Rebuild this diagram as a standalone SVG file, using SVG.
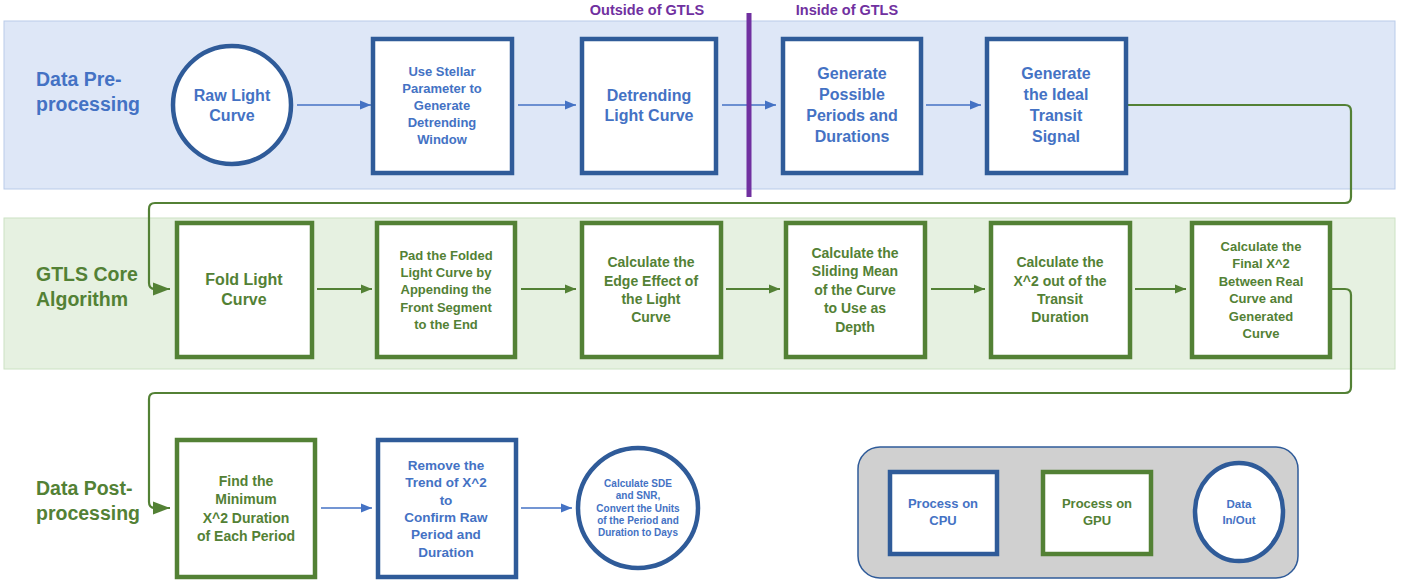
<svg xmlns="http://www.w3.org/2000/svg" width="1413" height="585" viewBox="0 0 1413 585">
<style>
text{font-family:"Liberation Sans",Arial,sans-serif;font-weight:bold;text-anchor:middle}
.bt{fill:#4472c4}
.gt{fill:#538135}
.pt{fill:#7030a0}
.bbox{fill:#fff;stroke:#2f5b99;stroke-width:4.5}
.gbox{fill:#fff;stroke:#538135;stroke-width:4.5}
.barr{fill:none;stroke:#4472c4;stroke-width:1.6}
.garr{fill:none;stroke:#538135;stroke-width:1.8}
.loop{fill:none;stroke:#538135;stroke-width:2.2}
.lab{text-anchor:start;font-size:19.5px}
</style>
<defs>
<marker id="ab" markerUnits="userSpaceOnUse" markerWidth="12" markerHeight="10" refX="11" refY="5" orient="auto"><path d="M0,0.5 L11,5 L0,9.5 Z" fill="#4472c4"/></marker>
<marker id="ag" markerUnits="userSpaceOnUse" markerWidth="12" markerHeight="10" refX="11" refY="5" orient="auto"><path d="M0,0.5 L11,5 L0,9.5 Z" fill="#538135"/></marker>
<marker id="al" markerUnits="userSpaceOnUse" markerWidth="18" markerHeight="14" refX="17" refY="7" orient="auto"><path d="M0,0.5 L17,7 L0,13.5 Z" fill="#538135"/></marker>
</defs>

<g id="bands">
<rect x="4" y="21" width="1391" height="168" fill="#dee7f7" stroke="#b9cbe9" stroke-width="1"/>
<rect x="4" y="218" width="1391" height="151" fill="#e6f1e1" stroke="#cce2c3" stroke-width="1"/>
</g>

<g id="labels">
<text class="bt lab" x="36" y="86">Data Pre-</text>
<text class="bt lab" x="36" y="111">processing</text>
<text class="gt lab" x="36" y="281">GTLS Core</text>
<text class="gt lab" x="36" y="306">Algorithm</text>
<text class="gt lab" x="36" y="495">Data Post-</text>
<text class="gt lab" x="36" y="520">processing</text>
<text class="pt" x="647" y="15" font-size="14.5">Outside of GTLS</text>
<text class="pt" x="847" y="15" font-size="14.5">Inside of GTLS</text>
</g>

<g id="connectors">
<line class="barr" x1="297" y1="105" x2="371" y2="105" marker-end="url(#ab)"/>
<line class="barr" x1="518" y1="105" x2="576" y2="105" marker-end="url(#ab)"/>
<line class="barr" x1="722" y1="105" x2="776" y2="105" marker-end="url(#ab)"/>
<line class="barr" x1="926" y1="105" x2="981" y2="105" marker-end="url(#ab)"/>
<path class="loop" d="M1127,105 H1345 Q1351,105 1351,111 V197 Q1351,203 1345,203 H155 Q149,203 149,209 V283 Q149,289 155,289 H170" marker-end="url(#al)"/>
<line class="garr" x1="317" y1="289" x2="372" y2="289" marker-end="url(#ag)"/>
<line class="garr" x1="521" y1="289" x2="576" y2="289" marker-end="url(#ag)"/>
<line class="garr" x1="726" y1="289" x2="780" y2="289" marker-end="url(#ag)"/>
<line class="garr" x1="931" y1="289" x2="985" y2="289" marker-end="url(#ag)"/>
<line class="garr" x1="1135" y1="289" x2="1186" y2="289" marker-end="url(#ag)"/>
<path class="loop" d="M1331,289 H1345 Q1351,289 1351,295 V387 Q1351,393 1345,393 H155 Q149,393 149,399 V502 Q149,508 155,508 H170" marker-end="url(#al)"/>
<line class="barr" x1="321" y1="508" x2="372" y2="508" marker-end="url(#ab)"/>
<line class="barr" x1="521" y1="508" x2="572" y2="508" marker-end="url(#ab)"/>
</g>

<g id="divider">
<line x1="749" y1="13" x2="749" y2="197" stroke="#7030a0" stroke-width="5"/>
</g>

<g id="raw-light-curve">
<circle class="bbox" cx="232" cy="105" r="59" stroke-width="5"/>
<text class="bt" x="232" y="101" font-size="16">Raw Light</text>
<text class="bt" x="232" y="121" font-size="16">Curve</text>
</g>

<g id="stellar-param">
<rect class="bbox" x="373" y="39" width="139" height="134"/>
<text class="bt" font-size="13"><tspan x="442" y="76">Use Stellar</tspan><tspan x="442" y="93">Parameter to</tspan><tspan x="442" y="110">Generate</tspan><tspan x="442" y="127">Detrending</tspan><tspan x="442" y="144">Window</tspan></text>
</g>

<g id="detrending">
<rect class="bbox" x="582" y="39" width="134" height="134"/>
<text class="bt" font-size="16"><tspan x="649" y="101">Detrending</tspan><tspan x="649" y="121">Light Curve</tspan></text>
</g>

<g id="gen-periods">
<rect class="bbox" x="783" y="39" width="138" height="134"/>
<text class="bt" font-size="16"><tspan x="852" y="79">Generate</tspan><tspan x="852" y="100">Possible</tspan><tspan x="852" y="121">Periods and</tspan><tspan x="852" y="142">Durations</tspan></text>
</g>

<g id="gen-ideal">
<rect class="bbox" x="987" y="39" width="139" height="134"/>
<text class="bt" font-size="16"><tspan x="1056" y="79">Generate</tspan><tspan x="1056" y="100">the Ideal</tspan><tspan x="1056" y="121">Transit</tspan><tspan x="1056" y="142">Signal</tspan></text>
</g>

<g id="fold">
<rect class="gbox" x="177" y="223" width="135" height="134"/>
<text class="gt" font-size="16"><tspan x="244" y="285">Fold Light</tspan><tspan x="244" y="305">Curve</tspan></text>
</g>

<g id="pad">
<rect class="gbox" x="377" y="223" width="138" height="134"/>
<text class="gt" font-size="13"><tspan x="446" y="260">Pad the Folded</tspan><tspan x="446" y="277">Light Curve by</tspan><tspan x="446" y="294">Appending the</tspan><tspan x="446" y="312">Front Segment</tspan><tspan x="446" y="329">to the End</tspan></text>
</g>

<g id="edge">
<rect class="gbox" x="582" y="223" width="139" height="134"/>
<text class="gt" font-size="14"><tspan x="651" y="267">Calculate the</tspan><tspan x="651" y="286">Edge Effect of</tspan><tspan x="651" y="304">the Light</tspan><tspan x="651" y="322">Curve</tspan></text>
</g>

<g id="sliding">
<rect class="gbox" x="786" y="223" width="139" height="134"/>
<text class="gt" font-size="14"><tspan x="855" y="258">Calculate the</tspan><tspan x="855" y="276">Sliding Mean</tspan><tspan x="855" y="295">of the Curve</tspan><tspan x="855" y="313">to Use as</tspan><tspan x="855" y="332">Depth</tspan></text>
</g>

<g id="x2-out">
<rect class="gbox" x="991" y="223" width="139" height="134"/>
<text class="gt" font-size="14"><tspan x="1060" y="267">Calculate the</tspan><tspan x="1060" y="286">X^2 out of the</tspan><tspan x="1060" y="304">Transit</tspan><tspan x="1060" y="322">Duration</tspan></text>
</g>

<g id="final-x2">
<rect class="gbox" x="1192" y="223" width="138" height="134"/>
<text class="gt" font-size="13"><tspan x="1261" y="251">Calculate the</tspan><tspan x="1261" y="268">Final X^2</tspan><tspan x="1261" y="286">Between Real</tspan><tspan x="1261" y="303">Curve and</tspan><tspan x="1261" y="321">Generated</tspan><tspan x="1261" y="338">Curve</tspan></text>
</g>

<g id="min-x2">
<rect class="gbox" x="177" y="440" width="138" height="137"/>
<text class="gt" font-size="14"><tspan x="246" y="486">Find the</tspan><tspan x="246" y="504">Minimum</tspan><tspan x="246" y="523">X^2 Duration</tspan><tspan x="246" y="541">of Each Period</tspan></text>
</g>

<g id="remove-trend">
<rect class="bbox" x="378" y="440" width="138" height="137"/>
<text class="bt" font-size="13.5"><tspan x="446" y="470">Remove the</tspan><tspan x="446" y="487">Trend of X^2</tspan><tspan x="446" y="505">to</tspan><tspan x="446" y="522">Confirm Raw</tspan><tspan x="446" y="539">Period and</tspan><tspan x="446" y="557">Duration</tspan></text>
</g>

<g id="sde-snr">
<circle class="bbox" cx="638" cy="508" r="60" stroke-width="4"/>
<text class="bt" font-size="10"><tspan x="638" y="487">Calculate SDE</tspan><tspan x="638" y="499">and SNR,</tspan><tspan x="638" y="512">Convert the Units</tspan><tspan x="638" y="524">of the Period and</tspan><tspan x="638" y="536">Duration to Days</tspan></text>
</g>

<g id="legend">
<rect x="858" y="447" width="440" height="131" rx="22" fill="#d0d0d0" stroke="#2f5b99" stroke-width="1.5"/>
<rect class="bbox" x="890" y="472" width="107" height="82" stroke-width="3.5"/>
<text class="bt" font-size="13"><tspan x="943" y="508">Process on</tspan><tspan x="943" y="525">CPU</tspan></text>
<rect class="gbox" x="1043" y="472" width="108" height="82" stroke-width="3.5"/>
<text class="gt" font-size="13"><tspan x="1097" y="508">Process on</tspan><tspan x="1097" y="525">GPU</tspan></text>
<ellipse class="bbox" cx="1239" cy="512" rx="44" ry="49" stroke-width="4"/>
<text class="bt" font-size="11.5"><tspan x="1239" y="508">Data</tspan><tspan x="1239" y="524">In/Out</tspan></text>
</g>
</svg>
